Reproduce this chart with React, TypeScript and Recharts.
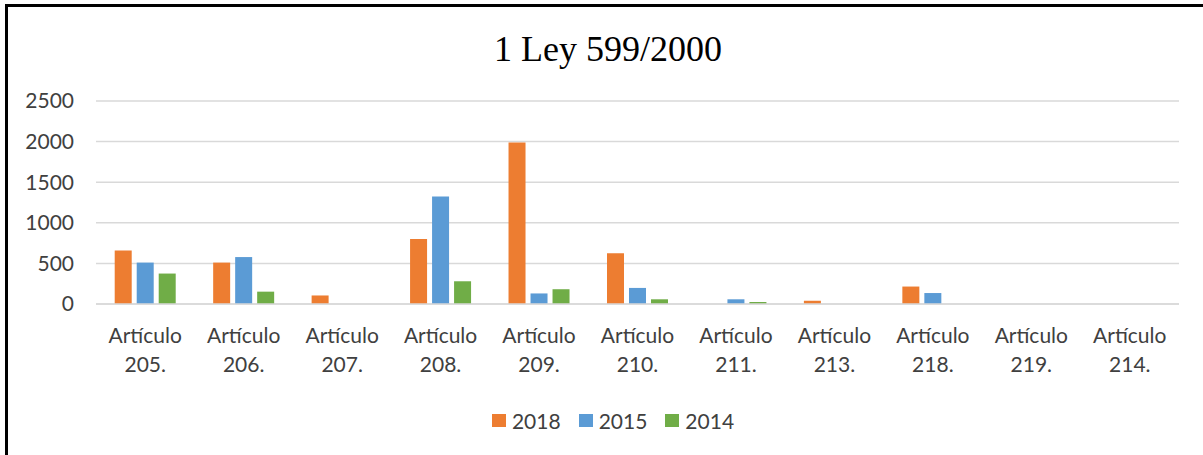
import { BarChart, Bar, XAxis, YAxis, CartesianGrid, Legend } from "recharts";

const articles = ["205.", "206.", "207.", "208.", "209.", "210.", "211.", "213.", "218.", "219.", "214."];
const y2018 = [660, 510, 105, 800, 1990, 625, 0, 40, 215, 0, 0];
const y2015 = [510, 578, 0, 1325, 130, 198, 58, 0, 135, 0, 0];
const y2014 = [375, 152, 0, 280, 182, 58, 25, 0, 0, 0, 0];
const yTicks = [0, 500, 1000, 1500, 2000, 2500];

const SERIES = [
  { key: "2018", color: "#ED7D31" },
  { key: "2015", color: "#5B9BD5" },
  { key: "2014", color: "#70AD47" },
];

const data = articles.map((a, i) => ({
  name: "Artículo " + a,
  "2018": y2018[i],
  "2015": y2015[i],
  "2014": y2014[i],
}));

const FONT = "Lato, 'Noto Sans', sans-serif";
const TEXT = "#404040";

const ArticleTick = ({ x, y, payload }: any) => {
  const [word, num] = String(payload.value).split(" ");
  return (
    <text x={x} y={y} textAnchor="middle" fill={TEXT} fontFamily={FONT} fontSize={21}>
      <tspan x={x} dy={343 - y}>{word}</tspan>
      <tspan x={x} dy={29}>{num}</tspan>
    </text>
  );
};

const LegendBox = () => (
  <div style={{ display: "flex", justifyContent: "center", alignItems: "center", height: 24 }}>
    {SERIES.map((s) => (
      <div key={s.key} style={{ display: "flex", alignItems: "center", margin: "0 9px" }}>
        <span style={{ width: 14, height: 13, background: s.color, marginRight: 6, display: "inline-block" }} />
        <span style={{ fontFamily: FONT, fontSize: 21, color: TEXT }}>{s.key}</span>
      </div>
    ))}
  </div>
);

export default function App() {
  return (
    <div style={{ position: "fixed", left: 0, top: 0, width: 1203, height: 455, overflow: "hidden", background: "#fff" }}>
      <div
        style={{
          position: "absolute",
          left: 5,
          top: 4,
          width: 1400,
          height: 700,
          borderLeft: "3px solid #000",
          borderTop: "3px solid #000",
        }}
      />
      <svg width={1203} height={455} style={{ position: "absolute", left: 0, top: 0 }}>
        <text x={608} y={61} textAnchor="middle" fontFamily="'Liberation Serif', 'Times New Roman', serif" fontSize={36} fill="#000">
          1 Ley 599/2000
        </text>
      </svg>
      <div style={{ position: "absolute", left: 0, top: 0 }}>
        <BarChart
          width={1203}
          height={455}
          data={data}
          margin={{ top: 101, right: 24, left: 0, bottom: 51 }}
          barCategoryGap="19%"
          barGap={5}
        >
          <CartesianGrid vertical={false} stroke="#d9d9d9" strokeWidth={1.5} />
          <XAxis
            dataKey="name"
            height={100}
            interval={0}
            tickLine={false}
            axisLine={{ stroke: "#d9d9d9", strokeWidth: 1.5 }}
            tick={<ArticleTick />}
          />
          <YAxis
            width={96}
            domain={[0, 2500]}
            ticks={yTicks}
            tickSize={0}
            tickMargin={22}
            tickLine={false}
            axisLine={false}
            tick={{ fill: TEXT, fontFamily: FONT, fontSize: 21 }}
          />
          <Legend
            verticalAlign="middle"
            align="center"
            layout="horizontal"
            wrapperStyle={{ left: 20, width: 1186, top: 408 }}
            content={<LegendBox />}
          />
          {SERIES.map((s) => (
            <Bar key={s.key} dataKey={s.key} fill={s.color} isAnimationActive={false} />
          ))}
        </BarChart>
      </div>
    </div>
  );
}
